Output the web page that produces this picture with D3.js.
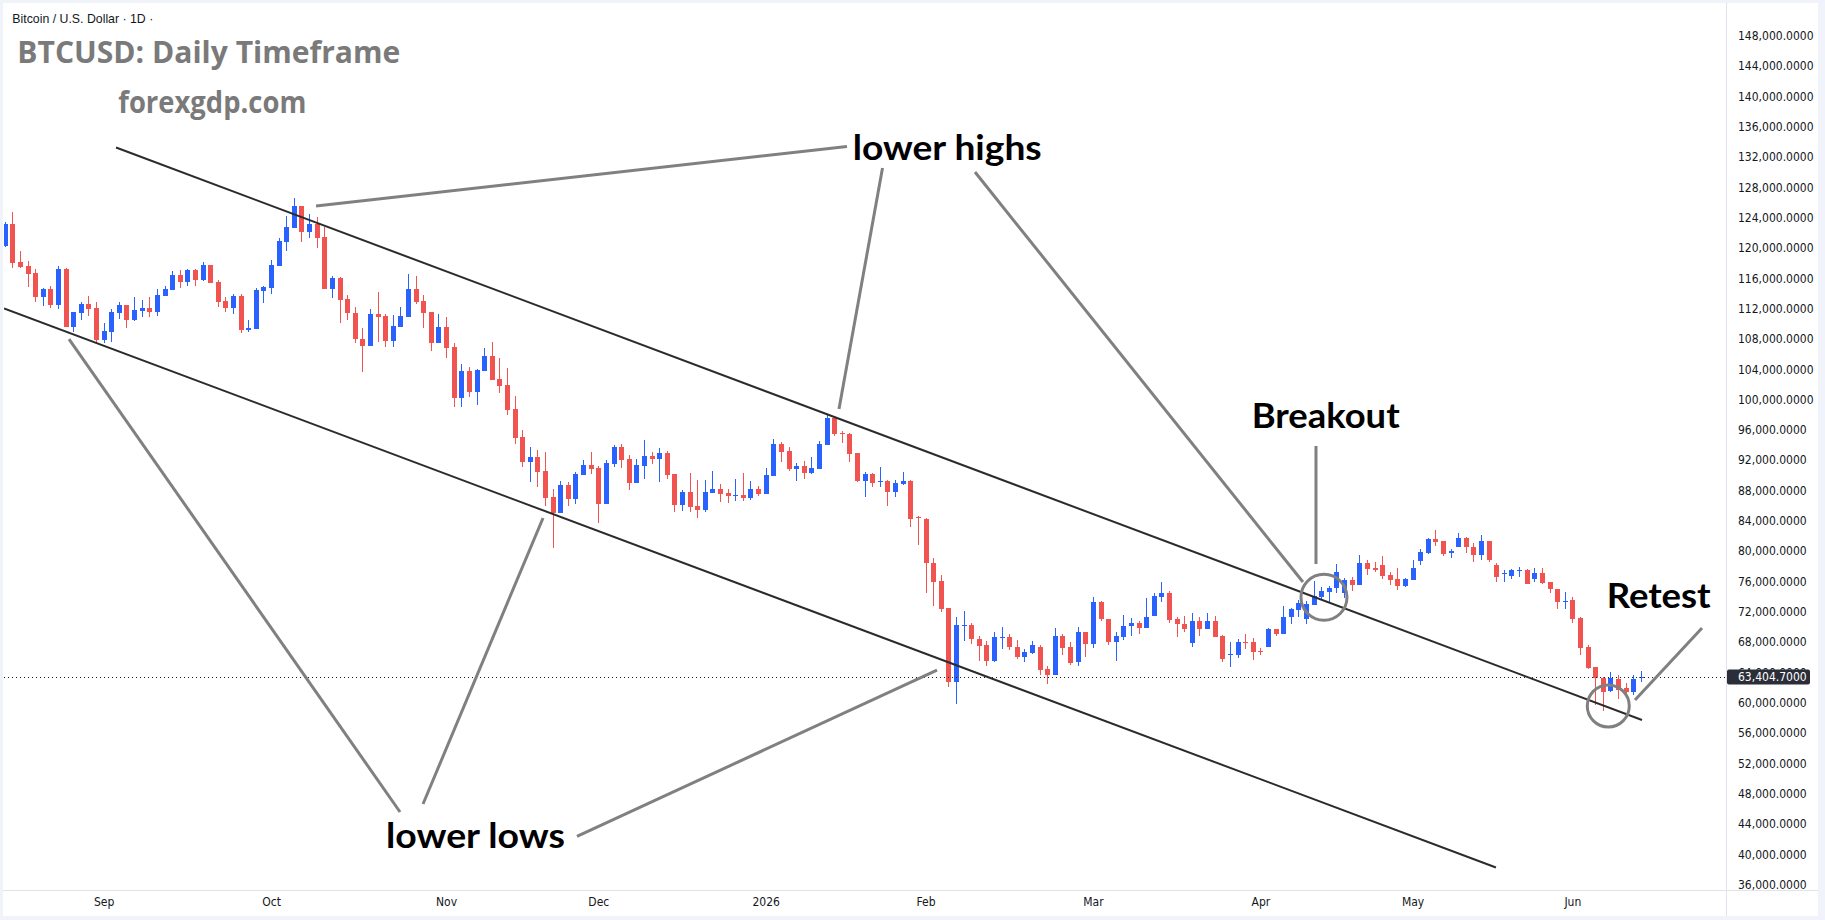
<!DOCTYPE html>
<html><head><meta charset="utf-8">
<script src="https://cdnjs.cloudflare.com/ajax/libs/d3/7.8.5/d3.min.js"></script>
<style>html,body{margin:0;padding:0;background:#fff;overflow:hidden}</style>
</head><body><svg id="c" width="1825" height="920"></svg>
<script>
// ---- DATA (daily candles, BTCUSD) ----
const opens = [120300,123160,118140,117610,116690,113570,114580,112510,117220,109610,111460,112600,112120,107850,108950,111460,112470,110440,111720,112120,111590,113700,114490,116430,115550,117090,115810,117750,115500,113000,112070,113660,109210,109300,114360,114750,117660,120780,122670,125530,122140,123160,121440,114620,116070,113260,111410,107980,107100,111280,111020,107760,109610,110930,114580,113000,111540,107500,109570,106930,100240,103760,101030,103800,105740,102700,101910,98750,95050,91800,92410,90610,87140,85070,88720,86920,90080,91360,90960,86260,91530,93730,92150,89030,91270,92540,92190,92940,90170,86120,87800,85950,85460,87710,88190,87710,87270,87400,87050,88190,87580,89950,94130,93200,90830,91230,90350,90870,94040,97560,95620,95490,92940,89290,90170,89160,89290,87840,88900,89250,84540,84280,78430,76050,72490,62770,70120,70250,68360,67570,65540,68580,68670,67390,66070,66600,67300,64400,63700,68750,67350,65370,69280,67790,73330,71040,68050,68710,70070,70510,69900,71440,73990,74430,71040,70380,67920,70730,69770,70730,68800,66340,66290,68010,68010,66820,67390,69680,69110,71260,72230,71040,72890,73990,74650,75090,74520,76190,75570,78430,77810,78170,76800,76270,75440,76190,78690,79790,81600,81330,79700,80540,81730,80540,79530,81330,78170,77070,76760,77420,77510,76320,77070,75880,74960,73370,73550,71220,67350,64660,63300,61590,63170,61980,61450,63210];
const highs = [123460,124740,119590,118270,117170,114670,114970,117610,117300,111590,112910,113660,112860,110050,111940,112860,112520,113520,113130,113520,114620,114970,116950,117090,117260,117260,118190,117800,115770,113570,113880,113880,110490,114670,114970,118410,121260,124210,126590,125580,124470,124080,122800,116290,116160,113790,112250,109480,111980,114180,111240,111150,112250,116560,116290,113790,111600,111240,110930,107450,104680,104290,104020,106790,107590,105470,104200,100460,95980,93730,93290,93070,88190,89250,89110,90430,92020,93070,91270,92020,94000,94170,92680,92190,94660,93070,93600,93160,90220,88060,90350,89420,89420,90570,88810,88150,89510,90350,89250,88590,90960,94790,94440,93780,91670,91890,92410,94520,98090,97650,95800,95620,92990,90480,90300,91090,89340,89380,90440,89380,84630,84330,79090,76800,72540,71310,72100,70470,68750,68180,69330,69990,69020,68270,67040,68140,67570,64840,69850,69060,67960,69990,69330,73940,73460,71090,69330,71530,71130,70780,73770,74430,75920,74740,71350,71440,71790,71260,71880,71480,68890,68050,68400,69020,68580,67170,69810,69720,72710,72540,73550,73420,76050,75260,75440,78300,76410,76630,79530,78830,78520,79400,77290,77730,76490,78830,80280,81680,82780,81380,80230,82340,81900,81020,82080,81380,78470,77510,77640,77860,77590,77730,77810,75970,75000,74600,73900,71260,67570,64710,63350,64000,63610,62550,63610,64180];
const lows = [120160,117390,117390,114890,112910,112380,112070,111900,109550,108950,110490,111060,107590,107410,107630,110660,109480,110400,110840,110930,111060,113650,114440,114670,115020,115020,115630,115360,112250,111590,111240,108820,108860,109250,112780,113920,117600,119640,122620,120820,121350,120030,114570,113440,110140,110440,107500,103670,107050,107630,106970,106880,109560,110880,112560,109480,106440,107450,105430,99050,99050,100370,99270,103750,102560,100900,98000,94170,91140,89160,88500,85950,80450,85020,85990,86260,90030,90210,83750,86200,91140,90960,88100,88980,89550,91530,89160,89550,85200,85240,85200,84410,85110,87660,86520,86390,86650,86650,86780,87310,87530,89900,91750,90570,89290,89550,90170,90820,93990,95180,94300,91800,89160,87180,88500,88500,85990,87180,88760,83220,80850,74430,72800,71920,62020,59780,68180,67740,65540,64880,65410,67040,66950,65720,65410,66380,63650,62420,63650,66290,64970,64840,66070,67260,70780,67610,65540,68310,68840,69060,69850,71390,73330,70470,68710,69280,67300,68840,69720,68660,65410,64750,65850,67040,65590,66290,67340,68840,69060,70430,71350,70430,72840,73550,73330,74520,73770,74780,75520,76890,77240,76270,75570,74870,75220,76140,78170,79620,80720,79350,79130,80490,79790,78610,78830,78610,75970,75970,76320,76630,75610,75970,75610,74520,72400,72320,70470,66250,64490,59690,58900,61370,60490,61010,61010,62770];
const closes = [123160,118050,117520,116600,113570,114580,112470,117220,109610,111540,112600,111980,107850,109040,111540,112470,110440,111810,112120,111590,113790,114620,116430,115550,117090,115810,117750,115410,112910,112070,113660,109170,109430,114450,114890,117750,120910,122760,125530,122140,123160,121350,114620,115990,113170,111370,107940,107100,111240,110930,107760,109700,111020,114580,112910,111460,107500,109570,106840,100240,103760,101030,103890,105740,102620,101820,98660,94960,91800,92410,90480,87050,85070,88720,86920,90170,91360,90830,86260,91620,93730,92060,89030,91360,92540,92190,92940,90080,86120,87800,85860,85460,87800,88190,87580,87310,87400,87050,88190,87580,90040,94130,93120,90830,91230,90350,90960,94130,97560,95490,95490,92850,89290,90170,89030,89290,87840,88980,89250,84280,84410,78390,75970,72400,62770,70250,70250,68360,67520,65540,68670,68670,67390,66070,66690,67570,64360,63700,68800,67260,65240,69280,67790,73330,71000,68050,68800,70070,70510,69900,71260,74080,74430,70950,70340,69770,70730,69770,70730,68710,65720,66420,67960,67870,66730,66640,69680,69110,71260,72320,73200,73020,74080,74740,75180,77240,76190,75570,78430,77680,77510,76760,76230,75440,76270,77730,79840,81600,81240,79620,80010,81730,80500,79530,81330,78830,76630,77150,77510,77510,75660,77070,75830,74960,73330,73460,71040,67260,64530,63300,61370,63300,61670,61450,63170,63404.7];
const lastPrice = 63404.7;
const priceTicks = [36000,40000,44000,48000,52000,56000,60000,64000,68000,72000,76000,80000,84000,88000,92000,96000,100000,104000,108000,112000,116000,120000,124000,128000,132000,136000,140000,144000,148000];
const monthTickIdx = [13,35,58,78,100,121,143,165,185,206];
const monthLabels = ["Sep","Oct","Nov","Dec","2026","Feb","Mar","Apr","May","Jun"];
// drawn objects, in (candle index, price) space
const channelUpper = [[14.63,133250],[215.15,57720]];
const channelLower = [[-0.09,112030],[195.96,38260]];
const pointers = [
  [[40.91,125530],[110.68,133380]],
  [[115.35,130540],[109.63,98750]],
  [[127.5,130015],[170.6,75920]],
  [[172.31,93870],[172.31,78300]],
  [[214.23,60360],[223.04,69855]],
  [[8.45,107980],[51.95,45580]],
  [[70.74,84370],[54.97,46635]],
  [[75.2,42350],[122.51,64310]]
];
const circles = [[173.36,73905,23],[210.72,59560,21]];

// ---- DRAW ----
const W = 1825, H = 920;
const svg = d3.select("#c");
const x = d3.scaleLinear().domain([0,215]).range([4.7, 1640.85]);
const y = d3.scaleLinear().domain([36000,148000]).range([884.6, 35.7]);
const plotR = 1726, axisY = 890;

svg.append("rect").attr("width",W).attr("height",H).attr("fill","#f0f3fa");
svg.append("rect").attr("x",3).attr("y",3).attr("width",1815).attr("height",913).attr("fill","#ffffff");
svg.append("line").attr("x1",plotR+0.5).attr("x2",plotR+0.5).attr("y1",3).attr("y2",916).attr("stroke","#e0e3eb");
svg.append("line").attr("x1",3).attr("x2",1818).attr("y1",axisY+0.5).attr("y2",axisY+0.5).attr("stroke","#e0e3eb");

svg.append("clipPath").attr("id","plot").append("rect").attr("x",4).attr("y",3).attr("width",plotR-4).attr("height",axisY-3);
const g = svg.append("g").attr("clip-path","url(#plot)");

const idx = d3.range(opens.length);
const up = i => closes[i] >= opens[i];
const col = i => up(i) ? "#2962ff" : "#f05350";
const cx = i => Math.round(x(i));

g.append("g").selectAll("rect.w").data(idx).join("rect")
  .attr("x", i => cx(i)).attr("width",1)
  .attr("y", i => y(highs[i])).attr("height", i => Math.max(1, y(lows[i]) - y(highs[i])))
  .attr("fill", col).attr("shape-rendering","crispEdges");
g.append("g").selectAll("rect.b").data(idx).join("rect")
  .attr("x", i => cx(i) - 2).attr("width",5)
  .attr("y", i => y(Math.max(opens[i],closes[i])))
  .attr("height", i => Math.max(1, Math.abs(y(opens[i]) - y(closes[i]))))
  .attr("fill", col).attr("shape-rendering","crispEdges");

// last price dotted line
g.append("line").attr("x1",4).attr("x2",plotR).attr("y1",Math.round(y(lastPrice))+0.5).attr("y2",Math.round(y(lastPrice))+0.5)
  .attr("stroke","#131722").attr("stroke-width",1).attr("stroke-dasharray","1,3");

// channel lines
const line = d3.line().x(d => x(d[0])).y(d => y(d[1]));
[channelUpper, channelLower].forEach(c => g.append("path").attr("d", line(c)).attr("fill","none").attr("stroke","#2b2b2b").attr("stroke-width",2));
// pointers
pointers.forEach(p => g.append("path").attr("d", line(p)).attr("fill","none").attr("stroke","#808080").attr("stroke-width",3));
circles.forEach(c => g.append("circle").attr("cx", x(c[0])).attr("cy", y(c[1])).attr("r", c[2]).attr("fill","none").attr("stroke","#808080").attr("stroke-width",3));

// axes
const axisFont = "'DejaVu Sans Condensed', 'Liberation Sans', Arial, sans-serif";
const yAxis = d3.axisRight(y).tickValues(priceTicks).tickSize(0).tickPadding(12).tickFormat(d3.format(",.4f"));
const ya = svg.append("g").attr("transform",`translate(${plotR},0)`).call(yAxis);
ya.select(".domain").remove();
ya.selectAll("text").attr("font-family",axisFont).attr("font-size",12).attr("fill","#131722");

const xAxis = d3.axisBottom(x).tickValues(monthTickIdx).tickSize(0).tickPadding(7).tickFormat((d,i) => monthLabels[i]);
const xa = svg.append("g").attr("transform",`translate(0,${axisY})`).call(xAxis);
xa.select(".domain").remove();
xa.selectAll("text").attr("font-family",axisFont).attr("font-size",12).attr("fill","#131722");

// last price label
const ly = y(lastPrice);
svg.append("rect").attr("x",plotR+1).attr("y",ly-7.5).attr("width",83).attr("height",15).attr("rx",2).attr("fill","#2a2e39");
svg.append("text").attr("x",plotR+12).attr("y",ly).attr("dy","0.35em").attr("font-family",axisFont)
  .attr("font-size",12).attr("fill","#ffffff").text(d3.format(",.4f")(lastPrice));

// texts
function txt(s, px, py, size, len, fill, weight, fam) {
  svg.append("text").attr("x",px).attr("y",py).attr("font-family",fam).attr("font-size",size)
    .attr("font-weight",weight).attr("fill",fill).attr("textLength",len).attr("lengthAdjust","spacingAndGlyphs").text(s);
}
txt("Bitcoin / U.S. Dollar · 1D ·", 12.3, 22.7, 13, 141, "#131722", 400, "'Liberation Sans', sans-serif");
txt("BTCUSD: Daily Timeframe", 17.3, 62.7, 31, 383, "#7a7a7a", 700, "'Open Sans', sans-serif");
txt("forexgdp.com", 118.3, 113.3, 30, 188, "#7a7a7a", 700, "'Open Sans', sans-serif");
const bf = "Lato, 'Open Sans', sans-serif";
txt("lower highs", 852.7, 160, 35, 189, "#000000", 700, bf);
txt("lower lows", 386, 848.3, 35, 179, "#000000", 700, bf);
txt("Breakout", 1251.7, 428.3, 35, 148, "#000000", 700, bf);
txt("Retest", 1606.7, 607.7, 35, 104, "#000000", 700, bf);
</script></body></html>
